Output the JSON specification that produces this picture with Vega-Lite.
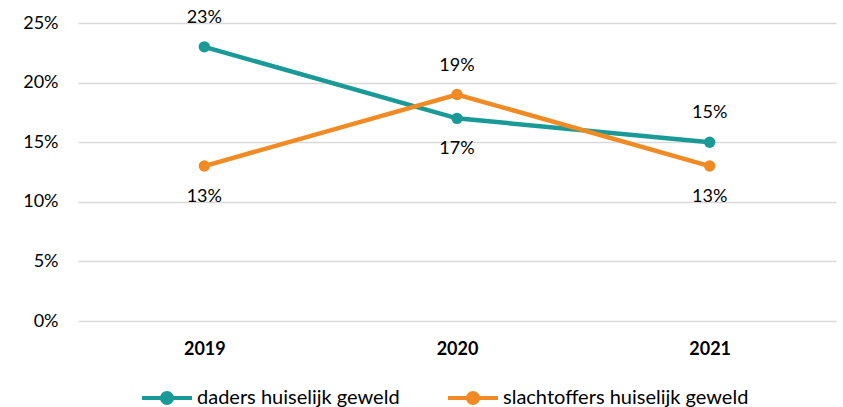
{
  "$schema": "https://vega.github.io/schema/vega-lite/v6.json",
  "width": 758,
  "height": 298,
  "autosize": {"type": "none"},
  "padding": {"left": 78, "top": 23, "right": 7, "bottom": 86},
  "background": "white",
  "config": {
    "view": {"stroke": null},
    "font": "Lato",
    "axis": {"labelFont": "Lato", "labelColor": "#000000"},
    "legend": {"labelFont": "Lato"}
  },
  "data": {
    "values": [
      {"jaar": "2019", "reeks": "daders huiselijk geweld", "waarde": 0.23},
      {"jaar": "2020", "reeks": "daders huiselijk geweld", "waarde": 0.17},
      {"jaar": "2021", "reeks": "daders huiselijk geweld", "waarde": 0.15},
      {"jaar": "2019", "reeks": "slachtoffers huiselijk geweld", "waarde": 0.13},
      {"jaar": "2020", "reeks": "slachtoffers huiselijk geweld", "waarde": 0.19},
      {"jaar": "2021", "reeks": "slachtoffers huiselijk geweld", "waarde": 0.13}
    ]
  },
  "encoding": {
    "x": {
      "field": "jaar", "type": "ordinal",
      "scale": {"type": "point", "padding": 0.5},
      "axis": {"title": null, "labelAngle": 0, "domain": false, "ticks": false, "grid": false,
               "labelFontSize": 18, "labelFontWeight": "bold", "labelPadding": 19}
    },
    "y": {
      "field": "waarde", "type": "quantitative",
      "scale": {"domain": [0, 0.25], "nice": false},
      "axis": {"title": null, "format": ".0%", "values": [0, 0.05, 0.1, 0.15, 0.2, 0.25],
               "domain": false, "ticks": false, "labelFontSize": 18, "labelPadding": 20,
               "gridColor": "#d9d9d9", "gridWidth": 1.5}
    },
    "color": {
      "field": "reeks", "type": "nominal",
      "scale": {"domain": ["daders huiselijk geweld", "slachtoffers huiselijk geweld"],
                "range": ["#1a9a97", "#f28a24"]},
      "legend": {
        "title": null, "orient": "none", "direction": "horizontal",
        "legendX": 62, "legendY": 348,
        "symbolType": "M -1 0 L 1 0 M 0.2 0 A 0.2 0.2 0 1 1 -0.2 0 A 0.2 0.2 0 1 1 0.2 0",
        "symbolSize": 2500, "symbolStrokeWidth": 4,
        "labelFontSize": 20, "labelLimit": 0, "labelColor": "#000000", "labelOffset": 3, "columnPadding": 40,
        "encode": {
          "symbols": {
            "update": {
              "stroke": {"scale": "color", "field": "value"},
              "fill": {"scale": "color", "field": "value"},
              "strokeWidth": {"value": 4},
              "opacity": {"value": 1}
            }
          }
        }
      }
    }
  },
  "layer": [
    {"mark": {"type": "line", "strokeWidth": 4.5}},
    {"mark": {"type": "point", "filled": true, "opacity": 1, "size": 130}},
    {
      "transform": [{"filter": "(datum.reeks == 'daders huiselijk geweld' && datum.jaar != '2020') || (datum.reeks == 'slachtoffers huiselijk geweld' && datum.jaar == '2020')"}],
      "mark": {"type": "text", "dy": -29, "fontSize": 18},
      "encoding": {"text": {"field": "waarde", "type": "quantitative", "format": ".0%"}, "color": {"value": "#000000"}}
    },
    {
      "transform": [{"filter": "!((datum.reeks == 'daders huiselijk geweld' && datum.jaar != '2020') || (datum.reeks == 'slachtoffers huiselijk geweld' && datum.jaar == '2020'))"}],
      "mark": {"type": "text", "dy": 31, "fontSize": 18},
      "encoding": {"text": {"field": "waarde", "type": "quantitative", "format": ".0%"}, "color": {"value": "#000000"}}
    }
  ]
}
